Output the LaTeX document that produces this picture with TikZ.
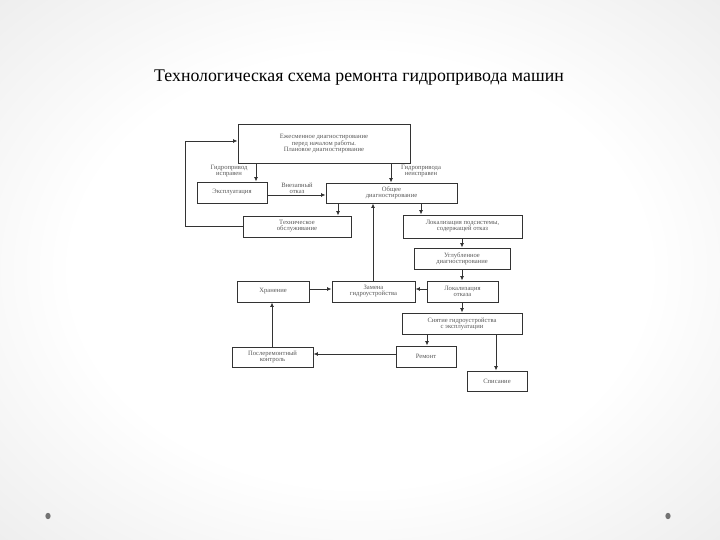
\documentclass[tikz,border=0pt]{standalone}
\usepackage{fontspec}
\setmainfont{Liberation Serif}
\usetikzlibrary{arrows.meta}
\pgfdeclareradialshading{bgsh}{\pgfpoint{0bp}{0bp}}{color(0bp)=(white); color(20bp)=(white); color(50bp)=(black!13); color(72bp)=(black!24)}
\tikzset{
  box/.style={draw=black!80, line width=0.95pt, fill=white, inner sep=1pt, align=center,
    font=\fontsize{6.6}{6}\selectfont, text=black!65},
  lbl/.style={align=center, inner sep=0pt, font=\fontsize{6.6}{6}\selectfont, text=black!65},
  arr/.style={draw=black!80, line width=0.95pt, -{Latex[length=4.5pt,width=4pt]}},
  dot/.style={fill=black!55, draw=none}
}
\begin{document}
\begin{tikzpicture}[x=1pt,y=-1pt]
\useasboundingbox (0,0) rectangle (720,540);
\shade[shading=bgsh] (0,0) rectangle (720,540);
\fill[dot] (48,516) ellipse (2.6 and 3.2);
\fill[dot] (668,516) ellipse (2.6 and 3.2);

\node[anchor=base, font=\fontsize{17.8}{20}\selectfont, text=black] (title) at (359,82)
  {Технологическая схема ремонта гидропривода машин};

% boxes
\node[box, minimum width=172, minimum height=39] (top) at (324,143.5)
  {Ежесменное диагностирование\\перед началом работы.\\Плановое диагностирование};
\node[box, minimum width=70, minimum height=21] (expl) at (232,192.5) {Эксплуатация};
\node[box, minimum width=131, minimum height=20] (obsh) at (391.5,193) {Общее\\диагностирование};
\node[box, minimum width=108, minimum height=21] (to) at (297,226.5) {Техническое\\обслуживание};
\node[box, minimum width=119, minimum height=23] (lokpod) at (462.5,226.5) {Локализация подсистемы,\\содержащей отказ};
\node[box, minimum width=96, minimum height=21] (uglub) at (462,258.5) {Углубленное\\диагностирование};
\node[box, minimum width=72, minimum height=21] (hran) at (273,291.5) {Хранение};
\node[box, minimum width=83, minimum height=21] (zam) at (373.5,291.5) {Замена\\гидроустройства};
\node[box, minimum width=71, minimum height=21] (lokotk) at (462.5,291.5) {Локализация\\отказа};
\node[box, minimum width=120, minimum height=21] (snyat) at (462,323.5) {Снятие гидроустройства\\с эксплуатации};
\node[box, minimum width=81, minimum height=20] (posle) at (272.5,357) {Послеремонтный\\контроль};
\node[box, minimum width=60, minimum height=21] (rem) at (426,356.5) {Ремонт};
\node[box, minimum width=60, minimum height=20] (spis) at (497,381) {Списание};

% helper coordinates
\coordinate (c256) at (256,0);
\coordinate (c391) at (391,0);
\coordinate (c338) at (338,0);
\coordinate (c373) at (373,0);
\coordinate (c421) at (421,0);
\coordinate (c462) at (462,0);
\coordinate (c427) at (427,0);
\coordinate (c496) at (496,0);
\coordinate (c272) at (272,0);
\coordinate (r195) at (0,195);
\coordinate (r289) at (0,289);
\coordinate (r354) at (0,354);
\coordinate (lp1) at (185,226.5);
\coordinate (lp2) at (185,141);

% connectors
\draw[arr] (top.south -| c256) -- (expl.north -| c256);
\draw[arr] (top.south -| c391) -- (obsh.north -| c391);
\draw[arr] (expl.east |- r195) -- (obsh.west |- r195);
\draw[arr] (obsh.south -| c338) -- (to.north -| c338);
\draw[arr] (zam.north -| c373) -- (obsh.south -| c373);
\draw[arr] (obsh.south -| c421) -- (lokpod.north -| c421);
\draw[arr] (lokpod.south -| c462) -- (uglub.north -| c462);
\draw[arr] (uglub.south -| c462) -- (lokotk.north -| c462);
\draw[arr] (lokotk.west |- r289) -- (zam.east |- r289);
\draw[arr] (hran.east |- r289) -- (zam.west |- r289);
\draw[arr] (lokotk.south -| c462) -- (snyat.north -| c462);
\draw[arr] (snyat.south -| c427) -- (rem.north -| c427);
\draw[arr] (snyat.south -| c496) -- (spis.north -| c496);
\draw[arr] (rem.west |- r354) -- (posle.east |- r354);
\draw[arr] (posle.north -| c272) -- (hran.south -| c272);
\draw[arr] (to.west) -- (lp1) -- (lp2) -- (top.west |- lp2);

% labels
\node[lbl] (l1) at (229,171) {Гидропривод\\исправен};
\node[lbl] (l2) at (421,171) {Гидропривода\\неисправен};
\node[lbl] (l3) at (297,188) {Внезапный\\отказ};
\end{tikzpicture}
\end{document}
